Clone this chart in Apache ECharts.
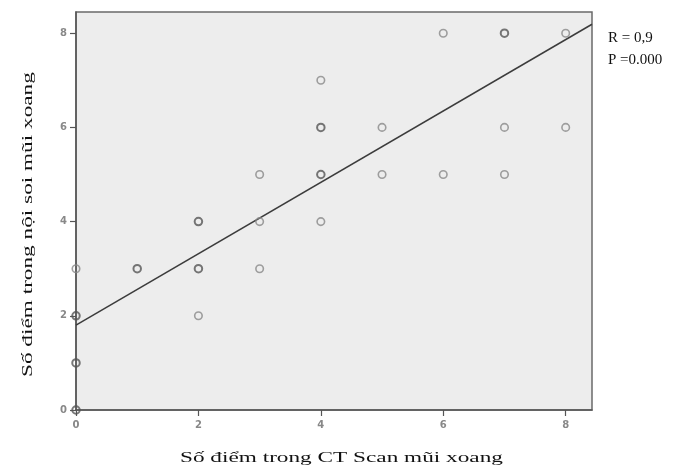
<!DOCTYPE html>
<html>
<head>
<meta charset="utf-8">
<script src="https://cdn.jsdelivr.net/npm/echarts@6/dist/echarts.min.js"></script>
<style>html,body{margin:0;padding:0;background:#fff;}#c{width:689px;height:471px;}</style>
</head>
<body>
<div id="c"></div>
<script>
var xValues = [0,0,0,0,1,2,2,2,3,3,3,4,4,4,4,5,5,6,6,7,7,7,8,8];
var yValues = [0,1,2,3,3,2,3,4,3,4,5,4,5,6,7,5,6,5,8,5,6,8,6,8];
var counts  = [2,2,2,1,2,1,2,2,1,1,1,1,2,2,1,1,1,1,1,1,1,2,1,1];
var fitLine = [[0,1.80],[8.43,8.19]];
var xTicks = [0,2,4,6,8];
var yTicks = [0,2,4,6,8];
var xTitle = 'Số điểm trong CT Scan mũi xoang';
var yTitle = 'Số điểm trong nội soi mũi xoang';
var notes = ['R = 0,9', 'P =0.000'];

var single = [], multi = [];
for (var i = 0; i < xValues.length; i++) {
  (counts[i] > 1 ? multi : single).push([xValues[i], yValues[i]]);
}
var chart = echarts.init(document.getElementById('c'));
var axisCommon = {
  type: 'value', min: 0,
  axisLine: {show: true, lineStyle: {color: '#555', width: 1.5}},
  axisTick: {show: true, inside: false, length: 6, lineStyle: {color: '#555', width: 1.2}},
  axisLabel: {color: '#888', fontSize: 10, fontWeight: 'bold', fontFamily: 'DejaVu Sans', margin: 4},
  splitLine: {show: false}
};
chart.setOption({
  backgroundColor: '#ffffff',
  animation: false,
  grid: {left: 76, top: 12, width: 516, height: 398, show: true, backgroundColor: '#ededed', borderColor: '#6a6a6a', borderWidth: 1.5},
  xAxis: Object.assign({}, axisCommon, {
    max: 8.43,
    axisTick: Object.assign({}, axisCommon.axisTick, {customValues: xTicks}),
    axisLabel: Object.assign({}, axisCommon.axisLabel, {customValues: xTicks, margin: 10})
  }),
  yAxis: Object.assign({}, axisCommon, {
    max: 8.45,
    axisTick: Object.assign({}, axisCommon.axisTick, {customValues: yTicks}),
    axisLabel: Object.assign({}, axisCommon.axisLabel, {customValues: yTicks, margin: 9})
  }),
  graphic: [
    {type: 'text', x: 180, y: 451, scaleX: 1.55, style: {text: xTitle, font: '15px "Liberation Serif"', fill: '#111'}},
    {type: 'text', rotation: Math.PI / 2, x: 21, y: 377, scaleX: 1.55, style: {text: yTitle, font: '15px "Liberation Serif"', fill: '#111'}},
    {type: 'text', x: 608, y: 31, style: {text: notes[0], font: '15px "Liberation Serif"', fill: '#111'}},
    {type: 'text', x: 608, y: 53, style: {text: notes[1], font: '15px "Liberation Serif"', fill: '#111'}}
  ],
  series: [
    {type: 'line', data: fitLine, symbol: 'none', lineStyle: {color: '#3c3c3c', width: 1.5}, z: 2},
    {type: 'scatter', data: single, symbol: 'circle', symbolSize: 7.5, itemStyle: {color: 'rgba(0,0,0,0)', borderColor: '#888', borderWidth: 1.6}, z: 3},
    {type: 'scatter', data: multi, symbol: 'circle', symbolSize: 7.5, itemStyle: {color: 'rgba(0,0,0,0)', borderColor: '#555', borderWidth: 2}, z: 3}
  ]
});
</script>
</body>
</html>
